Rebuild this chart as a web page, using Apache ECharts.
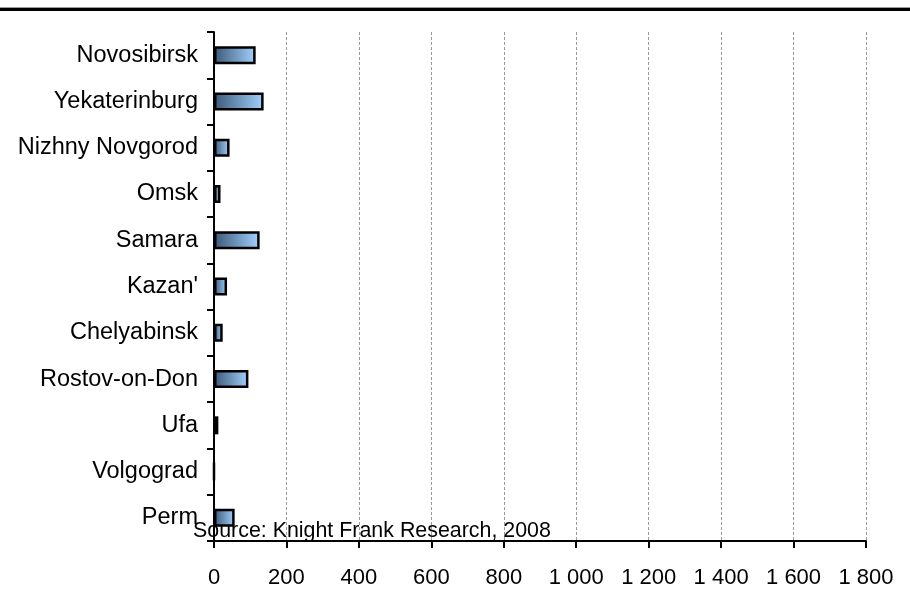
<!DOCTYPE html>
<html>
<head>
<meta charset="utf-8">
<script src="https://cdn.jsdelivr.net/npm/echarts@6/dist/echarts.min.js"></script>
<style>
  html, body { margin: 0; padding: 0; background: #ffffff; }
  #chart { width: 910px; height: 592px; }
</style>
</head>
<body>
<div id="chart"></div>
<script>
// Cities, top to bottom
const cities = [
  'Novosibirsk', 'Yekaterinburg', 'Nizhny Novgorod', 'Omsk', 'Samara',
  "Kazan'", 'Chelyabinsk', 'Rostov-on-Don', 'Ufa', 'Volgograd', 'Perm'
];
// Values per city
const values = [115, 137, 43, 18, 126, 36, 24, 95, 12, 0, 57];
// Value axis range
const axisMin = 0;
const axisMax = 1800;
const axisStep = 200;
const sourceNote = 'Source: Knight Frank Research, 2008';

// "1 000" style thousands grouping
function groupThousands(v) {
  return String(v).replace(/\B(?=(\d{3})+(?!\d))/g, ' ');
}

const chart = echarts.init(document.getElementById('chart'), null, { renderer: 'canvas' });

chart.setOption({
  backgroundColor: '#ffffff',
  animation: false,
  grid: { left: 214, top: 32, width: 652, height: 509, containLabel: false },
  xAxis: {
    type: 'value',
    min: axisMin,
    max: axisMax,
    interval: axisStep,
    axisLine: { show: true, lineStyle: { color: '#000', width: 2 } },
    axisTick: { show: true, length: 7, lineStyle: { color: '#000', width: 2 } },
    axisLabel: {
      margin: 26,
      color: '#000',
      fontSize: 22,
      fontFamily: '"Liberation Sans", Arial, sans-serif',
      formatter: groupThousands
    },
    splitLine: { show: true, lineStyle: { color: '#999999', width: 1, type: [3, 2] } }
  },
  yAxis: {
    type: 'category',
    data: cities,
    inverse: true,
    axisLine: { show: true, lineStyle: { color: '#000', width: 2 } },
    axisTick: { show: true, length: 7, alignWithLabel: false, lineStyle: { color: '#000', width: 2 } },
    axisLabel: {
      margin: 16,
      color: '#000',
      fontSize: 23.5,
      fontFamily: '"Liberation Sans", Arial, sans-serif'
    },
    splitLine: { show: false }
  },
  series: [{
    type: 'bar',
    data: values,
    barWidth: 18,
    itemStyle: {
      color: new echarts.graphic.LinearGradient(0, 0, 1, 0, [
        { offset: 0, color: '#3c5876' },
        { offset: 1, color: '#a2d2ff' }
      ]),
      borderColor: '#000',
      borderWidth: 2.5
    }
  }],
  graphic: [
    { type: 'rect', left: 0, top: 7, shape: { width: 910, height: 1 }, style: { fill: '#9a9a9a' } },
    { type: 'rect', left: 0, top: 8, shape: { width: 910, height: 3 }, style: { fill: '#000' } },
    {
      type: 'text',
      left: 193,
      top: 521,
      style: {
        text: sourceNote,
        fill: '#000',
        font: '21.4px "Liberation Sans", Arial, sans-serif'
      }
    }
  ]
});
</script>
</body>
</html>
